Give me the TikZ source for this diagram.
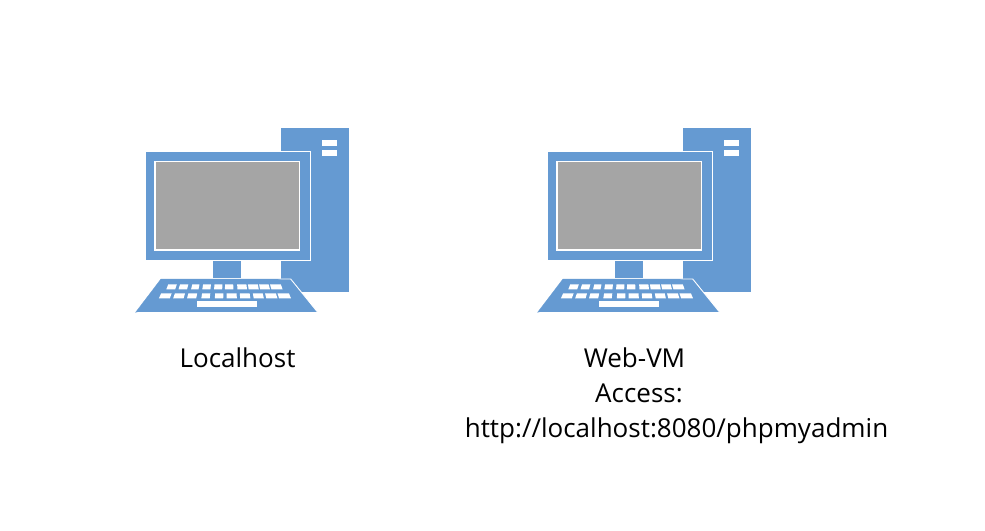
\documentclass[tikz,border=0pt]{standalone}
\usepackage{fontspec}
\setmainfont{Open Sans}
\definecolor{pcblue}{HTML}{659AD2}
\definecolor{pcgray}{HTML}{A5A5A5}
\newcommand{\keyslant}[2]{{#1+(228-(#1))*0.047*#2}}
\tikzset{
  body/.style={fill=pcblue,draw=white,line width=0.9pt,line join=miter},
  bare/.style={fill=pcblue,draw=none},
  screen/.style={fill=pcgray,draw=white,line width=1.1pt},
  keycap/.style={fill=white,draw=none},
  label/.style={font=\fontsize{26}{30}\selectfont,text=black,anchor=base,inner sep=0pt},
  pics/computer/.style={code={
    % tower
    \path[bare] (281.3,128) rectangle (349.4,291.7);
    \path[keycap] (321.5,140) rectangle (336.5,145.5);
    \path[keycap] (321.5,150) rectangle (336.5,155.5);
    % monitor
    \path[body] (145.5,151) rectangle (310.5,260);
    \path[screen] (155,161.7) rectangle (299.7,250);
    % stand
    \path[bare] (212.7,260.5) rectangle (241,278);
    % keyboard
    \path[body] (161,279) -- (290.7,279) -- (317.9,312.5) -- (135.5,312.5) -- cycle;
    \path[bare,draw=pcblue,line width=0.3pt] (135.5,312.5) -- (161,279) -- (281,279);
    % keys, upper row
    \foreach \a/\b in {167.3/176,179.3/187.7,191.7/199,202.7/210.7,214.3/222.3,225/233.3,237.3/246.7,248.3/258.3,259.6/269.3,270.7/281.7}{
      \path[keycap] (\keyslant{\a}{0.35},284.3) -- (\keyslant{\b}{0.35},284.3) -- (\keyslant{\b}{-0.35},289.3) -- (\keyslant{\a}{-0.35},289.3) -- cycle;
    }
    % keys, lower row
    \foreach \a/\b in {160/170.7,174/184.3,187.7/196.7,201.7/210,215/223.3,226.7/236.7,240/250,253.3/263.3,265.7/276.7,278.3/290}{
      \path[keycap] (\keyslant{\a}{0.35},293.4) -- (\keyslant{\b}{0.35},293.4) -- (\keyslant{\b}{-0.35},298.4) -- (\keyslant{\a}{-0.35},298.4) -- cycle;
    }
    % space bar
    \path[keycap] (196.7,301) rectangle (257.3,306.8);
  }}
}
\begin{document}
\begin{tikzpicture}[x=1pt,y=-1pt]
  \useasboundingbox (0,0) rectangle (985,530);
  \path[fill=white] (0,0) rectangle (985,530);
  \pic (localpc) at (0,0) {computer};
  \pic (webpc) at (402,0) {computer};
  \node[label] (localname) at (237.5,367.5) {Localhost};
  \node[label] (webname) at (634.5,367.5) {Web-VM};
  \node[label] (access) at (639,402.5) {Access:};
  \node[label] (url) at (676.5,437.5) {http://localhost:8080/phpmyadmin};
\end{tikzpicture}
\end{document}
